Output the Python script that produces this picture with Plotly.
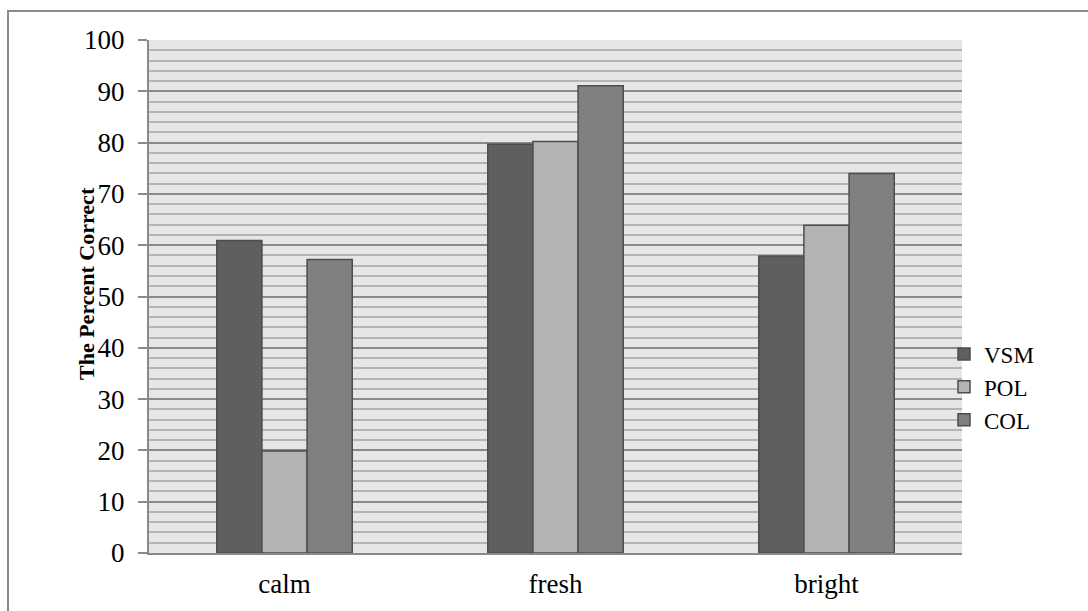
import plotly.graph_objects as go

categories = ["calm", "fresh", "bright"]
vsm = [60.9, 79.7, 57.9]
pol = [19.9, 80.2, 63.9]
col = [57.2, 91.1, 74.0]
series_names = ["VSM", "POL", "COL"]
series_colors = ["#5f5f5f", "#b3b3b3", "#808080"]
y_ticks = list(range(0, 101, 10))

W, H = 1088, 611
L, R, T, B = 149, 126, 40, 58
PW, PH = W - L - R, H - T - B

fig = go.Figure()
for name, vals, color in zip(series_names, [vsm, pol, col], series_colors):
    fig.add_trace(go.Bar(
        x=categories, y=vals, name=name,
        marker=dict(color=color, line=dict(color="#4d4d4d", width=1.5)),
    ))

font_family = "Liberation Serif, DejaVu Serif, serif"
fig.update_layout(
    width=W, height=H,
    margin=dict(l=L, r=R, t=T, b=B),
    paper_bgcolor="white",
    plot_bgcolor="#e6e6e6",
    barmode="group",
    bargap=0.5,
    bargroupgap=0,
    font=dict(family=font_family, size=27, color="black"),
    showlegend=True,
    legend=dict(
        x=(944 - L) / PW, y=(H - B - 387) / PH, xanchor="left", yanchor="middle",
        font=dict(family=font_family, size=23),
        itemwidth=30, tracegroupgap=0, bgcolor="rgba(0,0,0,0)",
    ),
    xaxis=dict(
        showline=True, linecolor="#8a8a8a", linewidth=2,
        ticks="", showgrid=False,
        tickfont=dict(size=27), ticklabelstandoff=6,
    ),
    yaxis=dict(
        range=[0, 100], tickvals=y_ticks,
        showline=True, linecolor="#8a8a8a", linewidth=2,
        ticks="outside", ticklen=9, tickcolor="#8a8a8a", tickwidth=2,
        ticklabelstandoff=8,
        showgrid=True, gridcolor="#8a8a8a", gridwidth=2,
        minor=dict(dtick=2, showgrid=True, gridcolor="#b4b4b4", gridwidth=2, ticks=""),
        zeroline=False,
        tickfont=dict(size=27),
    ),
    annotations=[dict(
        text="<b>The Percent Correct</b>", textangle=-90,
        xref="paper", yref="paper",
        x=(86 - L) / PW, y=(H - B - 284) / PH,
        xanchor="center", yanchor="middle", showarrow=False,
        font=dict(family=font_family, size=22, color="black"),
    )],
    shapes=[dict(
        type="rect", xref="paper", yref="paper",
        x0=(8 - L) / PW, x1=(W + 10 - L) / PW,
        y0=(H - B - (H + 10)) / PH, y1=(H - B - 11) / PH,
        line=dict(color="#8a8a8a", width=2), fillcolor="rgba(0,0,0,0)",
        layer="below",
    )],
)

fig.write_html("out.html")
